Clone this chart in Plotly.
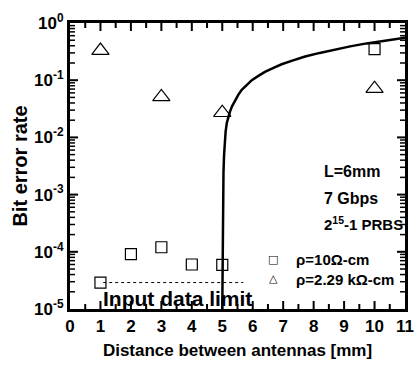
import math
import plotly.graph_objects as go

# ---- data ----
distance_sq = [1, 2, 3, 4, 5, 10]
ber_sq = [2.9e-5, 9.1e-5, 1.2e-4, 6.0e-5, 5.9e-5, 0.35]

distance_tri = [1, 3, 5, 10]
ber_tri = [0.33, 0.051, 0.027, 0.071]

fit_x = [5.0, 5.02, 5.04, 5.06, 5.08, 5.11, 5.15, 5.2, 5.25, 5.32, 5.42, 5.53, 5.64, 5.8,
         5.97, 6.2, 6.4, 6.7, 6.95, 7.3, 7.72, 8.2, 8.64, 9.2, 9.74, 10.4, 11.0]
fit_y = [1e-5, 1e-3, 2.5e-3, 5.0e-3, 7.9e-3, 1.26e-2, 1.8e-2, 2.3e-2, 2.8e-2, 3.5e-2, 4.5e-2,
         5.6e-2, 6.8e-2, 8.3e-2, 0.1, 0.12, 0.14, 0.166, 0.19, 0.22, 0.26, 0.30, 0.34, 0.39,
         0.44, 0.50, 0.55]

limit_x = [1.09, 5.69]
limit_y = [2.9e-5, 2.9e-5]

y_tickvals = [1e-5, 1e-4, 1e-3, 1e-2, 1e-1, 1]
y_ticktext = ["<b>10<sup>-5</sup></b>", "<b>10<sup>-4</sup></b>", "<b>10<sup>-3</sup></b>",
              "<b>10<sup>-2</sup></b>", "<b>10<sup>-1</sup></b>", "<b>10<sup>0</sup></b>"]
y_minor = [m * 10.0 ** e for e in range(-5, 0) for m in range(2, 10)]
x_tickvals = list(range(0, 12))
x_ticktext = ["<b>%d</b>" % v for v in x_tickvals]
x_minor = [i + 0.5 for i in range(0, 11)]

X_RANGE = [0, 11]
Y_RANGE_LOG = [-5, 0]

FONT = "Liberation Sans, Arial, sans-serif"
PLOT_W, PLOT_H = 335, 286

fig = go.Figure()

fig.add_trace(go.Scatter(
    x=limit_x, y=limit_y, mode="lines",
    line=dict(color="black", width=1, dash="dot"),
    showlegend=False, hoverinfo="skip"))

fig.add_trace(go.Scatter(
    x=fit_x, y=fit_y, mode="lines",
    line=dict(color="black", width=2.5),
    showlegend=False))

fig.add_trace(go.Scatter(
    x=distance_sq, y=ber_sq, mode="markers",
    marker=dict(symbol="square-open", size=11, color="black", line=dict(width=1.2)),
    name="ρ=10Ω-cm", showlegend=False))

fig.add_trace(go.Scatter(
    x=distance_tri, y=ber_tri, mode="markers",
    marker=dict(symbol="triangle-up-open", size=15, color="black", line=dict(width=1.2)),
    name="ρ=2.29 kΩ-cm", showlegend=False))

def px_to_x(px):
    return (px - 70) / PLOT_W * 11

def py_to_logy(py):
    return -(py - 23) / PLOT_H * 5

annots = [
    dict(text="<b>Input data limit</b>", x=px_to_x(177), y=py_to_logy(298), xanchor="center", size=21),
    dict(text="<b>L=6mm</b>", x=px_to_x(322), y=py_to_logy(171), xanchor="left", size=16),
    dict(text="<b>7 Gbps</b>", x=px_to_x(322), y=py_to_logy(198), xanchor="left", size=16),
    dict(text="<b>2<sup>15</sup>-1 PRBS</b>", x=px_to_x(322), y=py_to_logy(223), xanchor="left", size=15),
    dict(text="<b>ρ=10Ω-cm</b>", x=px_to_x(294), y=py_to_logy(259), xanchor="left", size=15),
    dict(text="<b>ρ=2.29 kΩ-cm</b>", x=px_to_x(294), y=py_to_logy(279), xanchor="left", size=15),
]
for a in annots:
    fig.add_annotation(
        text=a["text"], x=a["x"], y=a["y"], xref="x", yref="y",
        xanchor=a["xanchor"], yanchor="middle", showarrow=False,
        font=dict(family=FONT, size=a["size"], color="black"))

# legend symbols as text glyphs
for sym, py in [("□", 259), ("△", 278)]:
    fig.add_annotation(
        text=sym, x=px_to_x(273), y=py_to_logy(py), xref="x", yref="y",
        xanchor="center", yanchor="middle", showarrow=False,
        font=dict(family="DejaVu Sans", size=11, color="black"))

# inside tick marks on all four sides, placed from the tick lists (paper fractions)
def x_frac(v):
    return (v - X_RANGE[0]) / (X_RANGE[1] - X_RANGE[0])

def y_frac(v):
    return (math.log10(v) - Y_RANGE_LOG[0]) / (Y_RANGE_LOG[1] - Y_RANGE_LOG[0])

shapes = []
def add_xtick(v, length, width):
    f = x_frac(v)
    if 0 < f < 1:
        h = length / PLOT_H
        shapes.append(dict(type="line", xref="paper", yref="paper", x0=f, x1=f, y0=0, y1=h,
                           line=dict(color="black", width=width), layer="above"))
        shapes.append(dict(type="line", xref="paper", yref="paper", x0=f, x1=f, y0=1 - h, y1=1,
                           line=dict(color="black", width=width), layer="above"))

def add_ytick(v, length, width):
    f = y_frac(v)
    if 0 < f < 1:
        w = length / PLOT_W
        shapes.append(dict(type="line", xref="paper", yref="paper", x0=0, x1=w, y0=f, y1=f,
                           line=dict(color="black", width=width), layer="above"))
        shapes.append(dict(type="line", xref="paper", yref="paper", x0=1 - w, x1=1, y0=f, y1=f,
                           line=dict(color="black", width=width), layer="above"))

for v in x_tickvals:
    add_xtick(v, 8, 2)
for v in x_minor:
    add_xtick(v, 5, 2)
for v in y_tickvals:
    add_ytick(v, 8, 2)
for v in y_minor:
    add_ytick(v, 5, 1.5)

fig.update_layout(
    template="none",
    shapes=shapes,
    xaxis=dict(
        range=X_RANGE, tickmode="array", tickvals=x_tickvals, ticktext=x_ticktext,
        ticks="", showline=True, linewidth=3, linecolor="black", mirror=True,
        showgrid=False, zeroline=False,
        tickfont=dict(family=FONT, size=17, color="black"),
        title=dict(text="<b>Distance between antennas [mm]</b>", standoff=9,
                   font=dict(family=FONT, size=17, color="black"))),
    yaxis=dict(
        type="log", range=Y_RANGE_LOG, tickmode="array", tickvals=y_tickvals, ticktext=y_ticktext,
        ticks="", showline=True, linewidth=3, linecolor="black", mirror=True,
        showgrid=False, zeroline=False,
        tickfont=dict(family=FONT, size=17, color="black"),
        title=dict(text="<b>Bit error rate</b>", standoff=2,
                   font=dict(family=FONT, size=20, color="black"))),
    width=417, height=371,
    margin=dict(l=70, r=12, t=23, b=62, autoexpand=False),
    plot_bgcolor="white", paper_bgcolor="white",
    showlegend=False)

fig.write_html("out.html")
